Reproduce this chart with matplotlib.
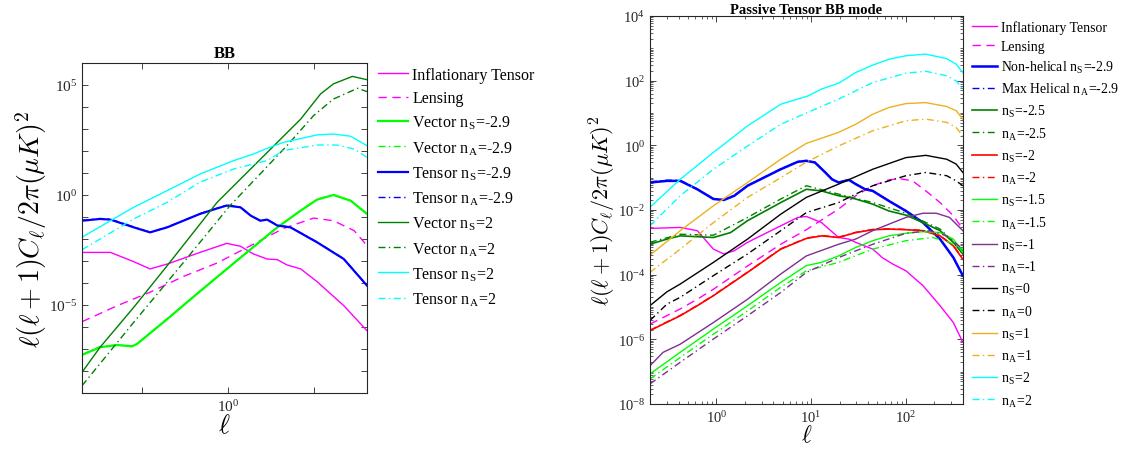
import numpy as np
import matplotlib
matplotlib.use('Agg')
from matplotlib import pyplot as plt
from matplotlib.ticker import FuncFormatter, NullLocator, LogLocator, FixedLocator

plt.rcParams['font.family'] = 'serif'
plt.rcParams['font.serif'] = ['Liberation Serif', 'DejaVu Serif']
plt.rcParams['mathtext.fontset'] = 'cm'

# ---------------- left panel (log10 x, log10 y) ----------------
infl_x = [-1.70, -1.37, -1.10, -0.91, -0.71, -0.33, -0.02, 0.14, 0.29, 0.45, 0.57, 0.68, 0.84, 1.03, 1.34, 1.61]
infl_y = [-2.61, -2.61, -3.03, -3.36, -3.14, -2.61, -2.20, -2.33, -2.68, -2.91, -2.94, -3.18, -3.36, -3.94, -5.03, -6.17]
lens_x = [-1.70, -1.29, -0.91, -0.52, -0.13, 0.26, 0.64, 0.99, 1.22, 1.46, 1.61]
lens_y = [-5.76, -5.03, -4.42, -3.70, -3.09, -2.30, -1.52, -1.05, -1.17, -1.62, -2.30]
vecS29_x = [-1.70, -1.49, -1.29, -1.12, -1.06, -0.71, -0.33, 0.06, 0.45, 0.57, 0.84, 1.03, 1.22, 1.42, 1.61]
vecS29_y = [-7.27, -6.92, -6.82, -6.88, -6.77, -5.64, -4.38, -3.11, -1.85, -1.47, -0.71, -0.21, 0.00, -0.26, -0.86]
vecA29_y = [-7.25, -6.90, -6.81, -6.86, -6.76, -5.62, -4.37, -3.10, -1.84, -1.46, -0.70, -0.20, 0.01, -0.25, -0.85]
tenS29_x = [-1.70, -1.49, -1.37, -1.10, -0.91, -0.71, -0.33, -0.13, -0.02, 0.14, 0.26, 0.37, 0.45, 0.57, 0.72, 1.03, 1.34, 1.61]
tenS29_y = [-1.17, -1.09, -1.12, -1.47, -1.70, -1.47, -0.86, -0.61, -0.48, -0.56, -0.94, -1.17, -1.12, -1.39, -1.47, -2.15, -2.91, -4.12]
tenA29_y = [-1.15, -1.07, -1.10, -1.45, -1.69, -1.46, -0.85, -0.60, -0.46, -0.55, -0.93, -1.16, -1.11, -1.38, -1.46, -2.14, -2.90, -4.11]
vecS2_x = [-1.70, -1.49, -1.10, -0.71, -0.13, 0.53, 0.84, 1.07, 1.22, 1.44, 1.61]
vecS2_y = [-8.06, -6.92, -5.11, -3.21, -0.33, 2.24, 3.45, 4.59, 5.05, 5.39, 5.24]
vecA2_x = [-1.70, -1.10, -0.52, 0.02, 0.68, 0.99, 1.22, 1.50, 1.61]
vecA2_y = [-8.67, -5.79, -3.06, -0.48, 2.24, 3.61, 4.36, 4.85, 4.70]
tenS2_x = [-1.70, -1.10, -0.71, -0.33, 0.06, 0.29, 0.45, 0.64, 1.03, 1.22, 1.42, 1.61]
tenS2_y = [-1.92, -0.56, 0.20, 0.95, 1.56, 1.86, 2.12, 2.39, 2.73, 2.77, 2.67, 2.24]
tenA2_x = [-1.70, -1.10, -0.71, -0.33, 0.06, 0.45, 0.64, 1.03, 1.26, 1.46, 1.61]
tenA2_y = [-2.49, -1.09, -0.33, 0.58, 1.18, 1.56, 2.02, 2.27, 2.27, 2.09, 1.71]

# ---------------- right panel (log10 ell, log10 y) ----------------
r_infl_x = [-0.70, -0.38, -0.20, -0.03, 0.08, 0.19, 0.33, 0.68, 0.86, 0.95, 1.11, 1.29, 1.40, 1.47, 1.65, 1.75, 1.86, 2.00, 2.18, 2.36, 2.50, 2.60]
r_infl_y = [-2.57, -2.54, -2.64, -3.21, -3.36, -3.26, -3.00, -2.49, -2.23, -2.20, -2.39, -2.85, -2.90, -3.00, -3.21, -3.47, -3.67, -3.88, -4.34, -4.96, -5.48, -6.09]
r_lens_x = [-0.70, -0.38, -0.20, -0.03, 0.33, 0.68, 0.95, 1.29, 1.47, 1.65, 1.82, 1.93, 2.07, 2.21, 2.36, 2.50, 2.60]
r_lens_y = [-5.53, -5.06, -4.76, -4.45, -3.73, -3.06, -2.61, -1.97, -1.56, -1.25, -1.07, -1.03, -1.10, -1.41, -1.77, -2.18, -2.59]
r_nh_x = [-0.70, -0.52, -0.38, -0.20, -0.03, 0.08, 0.19, 0.33, 0.68, 0.86, 0.95, 1.04, 1.15, 1.22, 1.29, 1.40, 1.47, 1.57, 1.65, 1.82, 2.00, 2.18, 2.36, 2.50, 2.60]
r_nh_y = [-1.15, -1.10, -1.10, -1.36, -1.66, -1.69, -1.56, -1.25, -0.74, -0.51, -0.48, -0.53, -0.84, -1.05, -1.15, -1.07, -1.20, -1.36, -1.41, -1.72, -2.03, -2.39, -2.90, -3.47, -4.03]
r_mh_y = [-1.13, -1.08, -1.08, -1.35, -1.65, -1.68, -1.55, -1.24, -0.73, -0.50, -0.47, -0.52, -0.83, -1.04, -1.14, -1.06, -1.19, -1.35, -1.40, -1.71, -2.02, -2.38, -2.89, -3.46, -4.02]
r_s25_x = [-0.70, -0.52, -0.38, -0.03, 0.15, 0.33, 0.68, 0.95, 1.11, 1.29, 1.40, 1.47, 1.65, 1.82, 2.00, 2.18, 2.36, 2.50, 2.60]
r_s25_y = [-3.06, -2.90, -2.80, -2.85, -2.70, -2.33, -1.77, -1.36, -1.41, -1.56, -1.61, -1.66, -1.82, -2.03, -2.16, -2.39, -2.64, -3.00, -3.36]
r_a25_x = [-0.70, -0.38, -0.03, 0.33, 0.68, 0.95, 1.29, 1.65, 2.00, 2.36, 2.60]
r_a25_y = [-3.00, -2.75, -2.78, -2.23, -1.66, -1.25, -1.51, -1.77, -2.10, -2.59, -3.26]
r_s2_x = [-0.70, -0.38, -0.20, -0.03, 0.33, 0.68, 0.95, 1.11, 1.29, 1.47, 1.65, 1.82, 2.00, 2.18, 2.36, 2.50, 2.60]
r_s2_y = [-5.73, -5.27, -4.96, -4.65, -3.93, -3.21, -2.88, -2.80, -2.85, -2.70, -2.61, -2.59, -2.61, -2.64, -2.80, -3.11, -3.52]
r_a2_y = [-5.72, -5.26, -4.95, -4.64, -3.92, -3.20, -2.87, -2.79, -2.84, -2.69, -2.60, -2.58, -2.60, -2.63, -2.79, -3.10, -3.50]
r_s15_x = [-0.70, -0.38, -0.03, 0.33, 0.68, 0.95, 1.11, 1.29, 1.47, 1.65, 1.82, 2.00, 2.18, 2.36, 2.50, 2.60]
r_s15_y = [-7.07, -6.40, -5.68, -4.96, -4.24, -3.72, -3.62, -3.42, -3.16, -2.95, -2.80, -2.72, -2.67, -2.70, -2.90, -3.31]
r_a15_x = [-0.70, -0.38, -0.03, 0.33, 0.68, 0.95, 1.29, 1.65, 2.00, 2.28, 2.46, 2.60]
r_a15_y = [-7.23, -6.56, -5.84, -5.12, -4.39, -3.88, -3.62, -3.21, -2.95, -2.85, -3.00, -3.21]
r_s1_x = [-0.70, -0.56, -0.38, -0.03, 0.33, 0.68, 0.95, 1.29, 1.47, 1.65, 1.82, 2.00, 2.18, 2.32, 2.46, 2.60]
r_s1_y = [-6.82, -6.40, -6.15, -5.48, -4.76, -3.98, -3.42, -3.06, -2.90, -2.64, -2.44, -2.23, -2.10, -2.10, -2.23, -2.64]
r_a1_x = [-0.70, -0.38, -0.03, 0.33, 0.68, 0.95, 1.29, 1.65, 2.00, 2.25, 2.43, 2.60]
r_a1_y = [-7.38, -6.71, -5.99, -5.27, -4.55, -3.93, -3.47, -3.06, -2.72, -2.64, -2.80, -3.21]
r_s0_x = [-0.70, -0.52, -0.38, -0.03, 0.33, 0.68, 0.95, 1.29, 1.65, 2.00, 2.21, 2.43, 2.53, 2.60]
r_s0_y = [-4.96, -4.53, -4.29, -3.62, -2.90, -2.13, -1.61, -1.20, -0.74, -0.38, -0.31, -0.43, -0.58, -0.84]
r_a0_y = [-5.42, -4.91, -4.70, -4.03, -3.36, -2.64, -2.08, -1.77, -1.25, -0.94, -0.84, -0.94, -1.10, -1.25]
r_s1p_x = [-0.70, -0.38, -0.03, 0.33, 0.68, 0.95, 1.29, 1.47, 1.65, 1.82, 2.00, 2.21, 2.43, 2.53, 2.60]
r_s1p_y = [-3.40, -2.64, -1.87, -1.15, -0.43, 0.06, 0.40, 0.65, 0.96, 1.17, 1.29, 1.32, 1.20, 1.07, 0.81]
r_a1p_x = [-0.70, -0.38, -0.03, 0.33, 0.68, 0.95, 1.29, 1.65, 2.00, 2.21, 2.43, 2.53, 2.60]
r_a1p_y = [-3.93, -3.21, -2.39, -1.61, -1.00, -0.52, -0.02, 0.45, 0.76, 0.81, 0.71, 0.55, 0.29]
r_s2p_x = [-0.70, -0.38, -0.03, 0.33, 0.68, 0.97, 1.11, 1.29, 1.47, 1.65, 1.82, 2.00, 2.21, 2.43, 2.53, 2.60]
r_s2p_y = [-1.92, -1.05, -0.22, 0.60, 1.27, 1.53, 1.74, 1.92, 2.25, 2.48, 2.66, 2.77, 2.82, 2.68, 2.51, 2.25]
r_a2p_x = [-0.70, -0.38, -0.03, 0.33, 0.68, 0.95, 1.29, 1.65, 2.00, 2.21, 2.43, 2.53, 2.60]
r_a2p_y = [-2.49, -1.56, -0.74, -0.02, 0.65, 1.00, 1.43, 1.94, 2.23, 2.29, 2.15, 1.99, 1.74]

MAG = '#FF00FF'
LIME = '#00FF00'
BLUE = '#0000FF'
DGREEN = '#008000'
CYAN = '#00FFFF'
RED = '#FF0000'
PURPLE = '#7E2F8E'
ORANGE = '#EDB120'
DASHDOT = (0, (5, 2.5, 1, 2.5))
DASH = (0, (6, 4))


def p(v):
    return 10 ** np.array(v)


def sub(letter):
    return r'$_{\mathdefault{' + letter + '}}$'


fig = plt.figure(figsize=(11.22, 4.56), dpi=100)
ax1 = fig.add_axes([0.0731, 0.136, 0.254, 0.7237])
ax2 = fig.add_axes([0.5793, 0.1118, 0.279, 0.851])

# left panel
ax1.plot(p(infl_x), p(infl_y), color=MAG, lw=1.0, label='Inflationary Tensor')
ax1.plot(p(lens_x), p(lens_y), color=MAG, lw=1.0, ls=DASH, label='Lensing')
ax1.plot(p(vecS29_x), p(vecS29_y), color=LIME, lw=1.6, label='Vector n' + sub('S') + '=-2.9')
ax1.plot(p(vecS29_x), p(vecA29_y), color=LIME, lw=1.0, ls=DASHDOT, label='Vector n' + sub('A') + '=-2.9')
ax1.plot(p(tenS29_x), p(tenS29_y), color=BLUE, lw=1.6, label='Tensor n' + sub('S') + '=-2.9')
ax1.plot(p(tenS29_x), p(tenA29_y), color=BLUE, lw=1.0, ls=DASHDOT, label='Tensor n' + sub('A') + '=-2.9')
ax1.plot(p(vecS2_x), p(vecS2_y), color=DGREEN, lw=1.0, label='Vector n' + sub('S') + '=2')
ax1.plot(p(vecA2_x), p(vecA2_y), color=DGREEN, lw=1.0, ls=DASHDOT, label='Vector n' + sub('A') + '=2')
ax1.plot(p(tenS2_x), p(tenS2_y), color=CYAN, lw=1.0, label='Tensor n' + sub('S') + '=2')
ax1.plot(p(tenA2_x), p(tenA2_y), color=CYAN, lw=1.0, ls=DASHDOT, label='Tensor n' + sub('A') + '=2')

ax1.set_xscale('log')
ax1.set_yscale('log')
ax1.set_xlim(10 ** -1.70, 10 ** 1.61)
ax1.set_ylim(1e-9, 1e6)
ax1.xaxis.set_major_locator(FixedLocator([0.1, 1, 10]))
ax1.xaxis.set_minor_locator(NullLocator())
ax1.xaxis.set_major_formatter(FuncFormatter(lambda v, pos: r'$\mathdefault{10^{0}}$' if abs(v - 1) < 1e-9 else ''))
ax1.yaxis.set_major_locator(FixedLocator(10.0 ** np.arange(-9, 7)))
ax1.yaxis.set_minor_locator(NullLocator())
ax1.yaxis.set_major_formatter(FuncFormatter(
    lambda v, pos: r'$\mathdefault{10^{%d}}$' % round(np.log10(v)) if round(np.log10(v)) % 5 == 0 else ''))
ax1.set_title('BB', fontsize=12, fontweight='bold', pad=4)
ax1.set_xlabel(r'$\ell$', fontsize=19, labelpad=0)
ax1.set_ylabel(r'$\ell(\ell+1)C_\ell/2\pi(\mu K)^2$', fontsize=20, labelpad=0)
ax1.legend(loc='upper left', bbox_to_anchor=(1.016, 1.008), frameon=False, fontsize=11.5,
           handlelength=1.9, handletextpad=0.25, labelspacing=0.47, borderaxespad=0)

# right panel
ax2.plot(p(r_infl_x), p(r_infl_y), color=MAG, lw=1.0, label='Inflationary Tensor')
ax2.plot(p(r_lens_x), p(r_lens_y), color=MAG, lw=1.0, ls=DASH, label='Lensing')
ax2.plot(p(r_nh_x), p(r_nh_y), color=BLUE, lw=1.8, label='Non-helical n' + sub('S') + '=-2.9')
ax2.plot(p(r_nh_x), p(r_mh_y), color=BLUE, lw=1.0, ls=DASHDOT, label='Max Helical n' + sub('A') + '=-2.9')
ax2.plot(p(r_s25_x), p(r_s25_y), color=DGREEN, lw=1.2, label='n' + sub('S') + '=-2.5')
ax2.plot(p(r_a25_x), p(r_a25_y), color=DGREEN, lw=1.0, ls=DASHDOT, label='n' + sub('A') + '=-2.5')
ax2.plot(p(r_s2_x), p(r_s2_y), color=RED, lw=1.2, label='n' + sub('S') + '=-2')
ax2.plot(p(r_s2_x), p(r_a2_y), color=RED, lw=1.0, ls=DASHDOT, label='n' + sub('A') + '=-2')
ax2.plot(p(r_s15_x), p(r_s15_y), color=LIME, lw=1.0, label='n' + sub('S') + '=-1.5')
ax2.plot(p(r_a15_x), p(r_a15_y), color=LIME, lw=1.0, ls=DASHDOT, label='n' + sub('A') + '=-1.5')
ax2.plot(p(r_s1_x), p(r_s1_y), color=PURPLE, lw=1.0, label='n' + sub('S') + '=-1')
ax2.plot(p(r_a1_x), p(r_a1_y), color=PURPLE, lw=1.0, ls=DASHDOT, label='n' + sub('A') + '=-1')
ax2.plot(p(r_s0_x), p(r_s0_y), color='black', lw=1.0, label='n' + sub('S') + '=0')
ax2.plot(p(r_s0_x), p(r_a0_y), color='black', lw=1.0, ls=DASHDOT, label='n' + sub('A') + '=0')
ax2.plot(p(r_s1p_x), p(r_s1p_y), color=ORANGE, lw=1.0, label='n' + sub('S') + '=1')
ax2.plot(p(r_a1p_x), p(r_a1p_y), color=ORANGE, lw=1.0, ls=DASHDOT, label='n' + sub('A') + '=1')
ax2.plot(p(r_s2p_x), p(r_s2p_y), color=CYAN, lw=1.0, label='n' + sub('S') + '=2')
ax2.plot(p(r_a2p_x), p(r_a2p_y), color=CYAN, lw=1.0, ls=DASHDOT, label='n' + sub('A') + '=2')

ax2.set_xscale('log')
ax2.set_yscale('log')
ax2.set_xlim(0.2, 400)
ax2.set_ylim(1e-8, 1e4)
ax2.xaxis.set_major_locator(FixedLocator([1, 10, 100]))
ax2.xaxis.set_minor_locator(LogLocator(base=10, subs=np.arange(2, 10), numticks=50))
ax2.yaxis.set_major_locator(FixedLocator(10.0 ** np.arange(-8, 5, 2)))
ax2.yaxis.set_minor_locator(LogLocator(base=10, subs=np.arange(1, 10), numticks=50))
ax2.yaxis.set_minor_formatter(FuncFormatter(lambda v, pos: ''))
ax2.xaxis.set_minor_formatter(FuncFormatter(lambda v, pos: ''))
ax2.yaxis.set_major_formatter(FuncFormatter(lambda v, pos: r'$\mathdefault{10^{%d}}$' % round(np.log10(v))))
ax2.xaxis.set_major_formatter(FuncFormatter(lambda v, pos: r'$\mathdefault{10^{%d}}$' % round(np.log10(v))))
ax2.set_title('Passive Tensor BB mode', fontsize=10.5, fontweight='bold', pad=2)
ax2.set_xlabel(r'$\ell$', fontsize=17, labelpad=0)
ax2.set_ylabel(r'$\ell(\ell+1)C_\ell/2\pi(\mu K)^2$', fontsize=16, labelpad=0)
ax2.legend(loc='upper left', bbox_to_anchor=(1.011, 1.004), frameon=False, fontsize=9.9,
           handlelength=1.8, handletextpad=0.3, labelspacing=0.43, borderaxespad=0)

for ax in (ax1, ax2):
    ax.tick_params(which='both', direction='in', top=True, right=True, colors='#262626',
                   labelsize=11, labelcolor='#262626')
    ax.tick_params(which='major', length=4, width=0.6)
    ax.tick_params(which='minor', length=2, width=0.5)
    for s in ax.spines.values():
        s.set_color('#262626')
        s.set_linewidth(0.8)
ax2.tick_params(labelsize=10.5)

fig.savefig('out.png', dpi=100)
